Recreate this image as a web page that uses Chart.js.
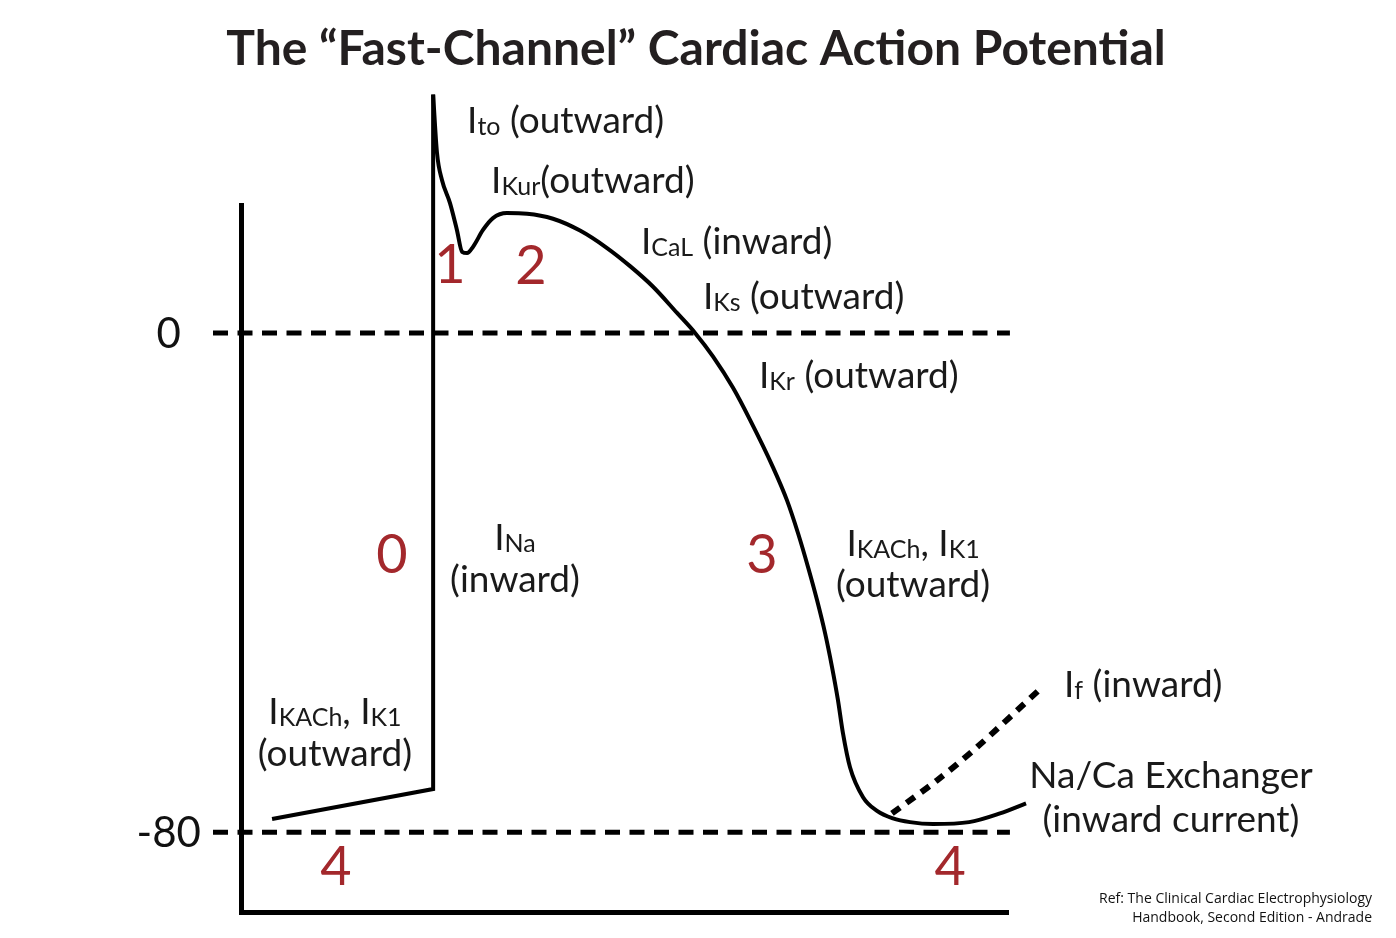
<!DOCTYPE html>
<html>
<head>
<meta charset="utf-8">
<script src="https://cdn.jsdelivr.net/npm/chart.js@4.4.1/dist/chart.umd.min.js"></script>
<style>
  html, body { margin: 0; padding: 0; background: #ffffff; }
  #wrap { width: 1396px; height: 938px; position: relative; }
</style>
</head>
<body>
<div id="wrap"><canvas id="chart"></canvas></div>
<script>
// ---------------- DATA ----------------
// Phase 4 (resting) + phase 0 upstroke: time (ms), membrane voltage (mV)
const restTime    = [16.2, 100.2, 100.2];
const restVoltage = [-77.9, -73.1, 38.2];

// Phases 1, 2, 3 and late phase 4 (Na/Ca exchanger)
const repolTime = [100.2, 102.2, 104.8, 109.0, 112.6, 115.3, 117.9, 121.0, 126.2, 131.4,
                   138.7, 149.2, 162.7, 176.8, 190.9, 202.9, 214.9, 227.4, 236.8, 246.2,
                   256.6, 265.4, 277.4, 284.7, 290.5, 295.7, 300.4, 304.6, 308.2, 311.3,
                   313.9, 317.6, 324.4, 331.7, 340.0, 348.9, 360.9, 379.7, 395.8, 409.4];
const repolVoltage = [38.2, 28.9, 24.5, 20.8, 16.5, 13.0, 12.8, 13.8, 16.5, 18.4,
                      19.2, 19.1, 18.3, 16.4, 13.6, 10.7, 7.4, 3.2, 0.0, -3.8,
                      -8.8, -13.9, -21.5, -26.8, -32.1, -37.5, -42.8, -48.1, -53.5, -58.8,
                      -64.1, -69.6, -74.4, -76.6, -77.8, -78.4, -78.7, -78.4, -77.0, -75.4];

// I_f (funny current) depolarisation, dashed
const ifTime    = [339.5, 363.0, 383.8, 417.7];
const ifVoltage = [-77.0, -71.7, -66.4, -56.8];

// Reference voltage levels (dashed) and their extent in time
const refLevels = [0, -80];
const refSpan   = [-14.6, 401];

// Y tick labels
const yTickValues = [0, -80];
const yTickLabels = ['0', '-80'];

// Phase numbers
const phaseLabels = ['0', '1', '2', '3', '4', '4'];

// ---------------- DATASETS ----------------
const toPts = (xs, ys) => xs.map((x, i) => ({ x: x, y: ys[i] }));
const base = { pointRadius: 0, borderColor: '#000000', clip: false, fill: false };

const datasets = [
  Object.assign({}, base, { label: 'Phase 4 / 0', data: toPts(restTime, restVoltage), borderWidth: 4, tension: 0 }),
  Object.assign({}, base, { label: 'Phases 1-3', data: toPts(repolTime, repolVoltage), borderWidth: 4, cubicInterpolationMode: 'monotone' }),
  Object.assign({}, base, { label: 'If', data: toPts(ifTime, ifVoltage), borderWidth: 6, tension: 0.3, borderDash: [10, 8] })
];
refLevels.forEach(v => {
  datasets.push(Object.assign({}, base, {
    label: v + ' mV', data: refSpan.map(t => ({ x: t, y: v })),
    borderWidth: 5, borderDash: [15, 9.5], tension: 0
  }));
});

// ---------------- ANNOTATIONS (data coordinates) ----------------
const annotations = [
  { x: 117.9, y: 32.1,  align: 'left',   parts: [['I'], ['to', 1], [' (outward)']] },
  { x: 130.4, y: 22.4,  align: 'left',   parts: [['I'], ['Kur', 1], ['(outward)']] },
  { x: 208.6, y: 12.7,  align: 'left',   parts: [['I'], ['CaL', 1], [' (inward)']] },
  { x: 240.9, y: 3.85,  align: 'left',   parts: [['I'], ['Ks', 1], [' (outward)']] },
  { x: 270.1, y: -8.8,  align: 'left',   parts: [['I'], ['Kr', 1], [' (outward)']] },
  { x: 142.9, y: -34.8, align: 'center', parts: [['I'], ['Na', 1]] },
  { x: 142.9, y: -41.5, align: 'center', parts: [['(inward)']] },
  { x: 350.5, y: -35.75,align: 'center', parts: [['I'], ['KACh', 1], [', I'], ['K1', 1]] },
  { x: 350.5, y: -42.3, align: 'center', parts: [['(outward)']] },
  { x: 49.0,  y: -62.7, align: 'center', parts: [['I'], ['KACh', 1], [', I'], ['K1', 1]] },
  { x: 49.0,  y: -69.4, align: 'center', parts: [['(outward)']] },
  { x: 429.2, y: -58.4, align: 'left',   parts: [['I'], ['f', 1], [' (inward)']] },
  { x: 485.0, y: -72.9, align: 'center', parts: [['Na/Ca Exchanger']] },
  { x: 485.0, y: -80.0, align: 'center', parts: [['(inward current)']] }
];
const phasePos = [
  { x: 78.7,  y: -38.5 },
  { x: 109.0, y: 8.0 },
  { x: 151.2, y: 7.8 },
  { x: 271.7, y: -38.5 },
  { x: 49.5,  y: -88.5 },
  { x: 369.8, y: -88.5 }
];
const tickLabelX = [-31.3, -20.9];

const FONT = 'Lato, "Open Sans", sans-serif';

function drawParts(ctx, parts, px, py, align, size, subSize) {
  const fonts = parts.map(p => (p[1] ? subSize : size) + 'px ' + FONT);
  const widths = parts.map((p, i) => { ctx.font = fonts[i]; return ctx.measureText(p[0]).width; });
  const total = widths.reduce((a, b) => a + b, 0);
  let cx = align === 'center' ? px - total / 2 : px;
  parts.forEach((p, i) => {
    ctx.font = fonts[i];
    ctx.fillText(p[0], cx, py + (p[1] ? 2 : 0));
    cx += widths[i];
  });
}

const annotationPlugin = {
  id: 'apAnnotations',
  afterDatasetsDraw(chart) {
    const { ctx } = chart;
    const xs = chart.scales.x, ys = chart.scales.y;
    ctx.save();
    ctx.textBaseline = 'alphabetic';

    // y tick labels
    ctx.fillStyle = '#111111';
    ctx.textAlign = 'right';
    ctx.font = '42px ' + FONT;
    yTickValues.forEach((v, i) => {
      ctx.fillText(yTickLabels[i], xs.getPixelForValue(tickLabelX[i]), ys.getPixelForValue(v) + 15);
    });

    // current annotations
    ctx.textAlign = 'left';
    ctx.fillStyle = '#1a1a1a';
    annotations.forEach(a => {
      drawParts(ctx, a.parts, xs.getPixelForValue(a.x), ys.getPixelForValue(a.y), a.align, 37, 25);
    });

    // phase numbers
    ctx.fillStyle = '#a3282c';
    ctx.textAlign = 'center';
    ctx.font = '54px ' + FONT;
    phaseLabels.forEach((t, i) => {
      ctx.fillText(t, xs.getPixelForValue(phasePos[i].x), ys.getPixelForValue(phasePos[i].y));
    });

    // reference note
    ctx.fillStyle = '#111111';
    ctx.textAlign = 'right';
    ctx.font = '14px "Open Sans", sans-serif';
    ctx.fillText('Ref: The Clinical Cardiac Electrophysiology', chart.width - 24, chart.height - 35);
    ctx.fillText('Handbook, Second Edition - Andrade', chart.width - 24, chart.height - 16);
    ctx.restore();
  }
};

new Chart(document.getElementById('chart'), {
  type: 'line',
  data: { datasets: datasets },
  plugins: [annotationPlugin],
  options: {
    responsive: true,
    maintainAspectRatio: false,
    animation: false,
    events: [],
    layout: { padding: { left: 0, right: 4, top: 0, bottom: 26 } },
    plugins: {
      legend: { display: false },
      tooltip: { enabled: false },
      title: {
        display: true,
        text: 'The \u201CFast-Channel\u201D Cardiac Action Potential',
        color: '#231f20',
        font: { family: 'Lato, "Open Sans", sans-serif', size: 48, weight: 'bold' },
        padding: { top: 21, bottom: 126.4 }
      }
    },
    scales: {
      x: {
        type: 'linear', min: 0, max: 400,
        grid: { display: false, drawTicks: false },
        border: { display: true, width: 5, color: '#000000' },
        ticks: { display: false }
      },
      y: {
        type: 'linear', position: 'left', min: -92.8, max: 20.5,
        grid: { display: false, drawTicks: false },
        border: { display: true, width: 5, color: '#000000' },
        ticks: { display: false },
        afterFit(s) { s.width = 241; }
      },
      y2: {
        type: 'linear', position: 'right', display: true,
        grid: { display: false, drawTicks: false },
        border: { display: false },
        ticks: { display: false },
        afterFit(s) { s.width = 384; }
      }
    }
  }
});
</script>
</body>
</html>
